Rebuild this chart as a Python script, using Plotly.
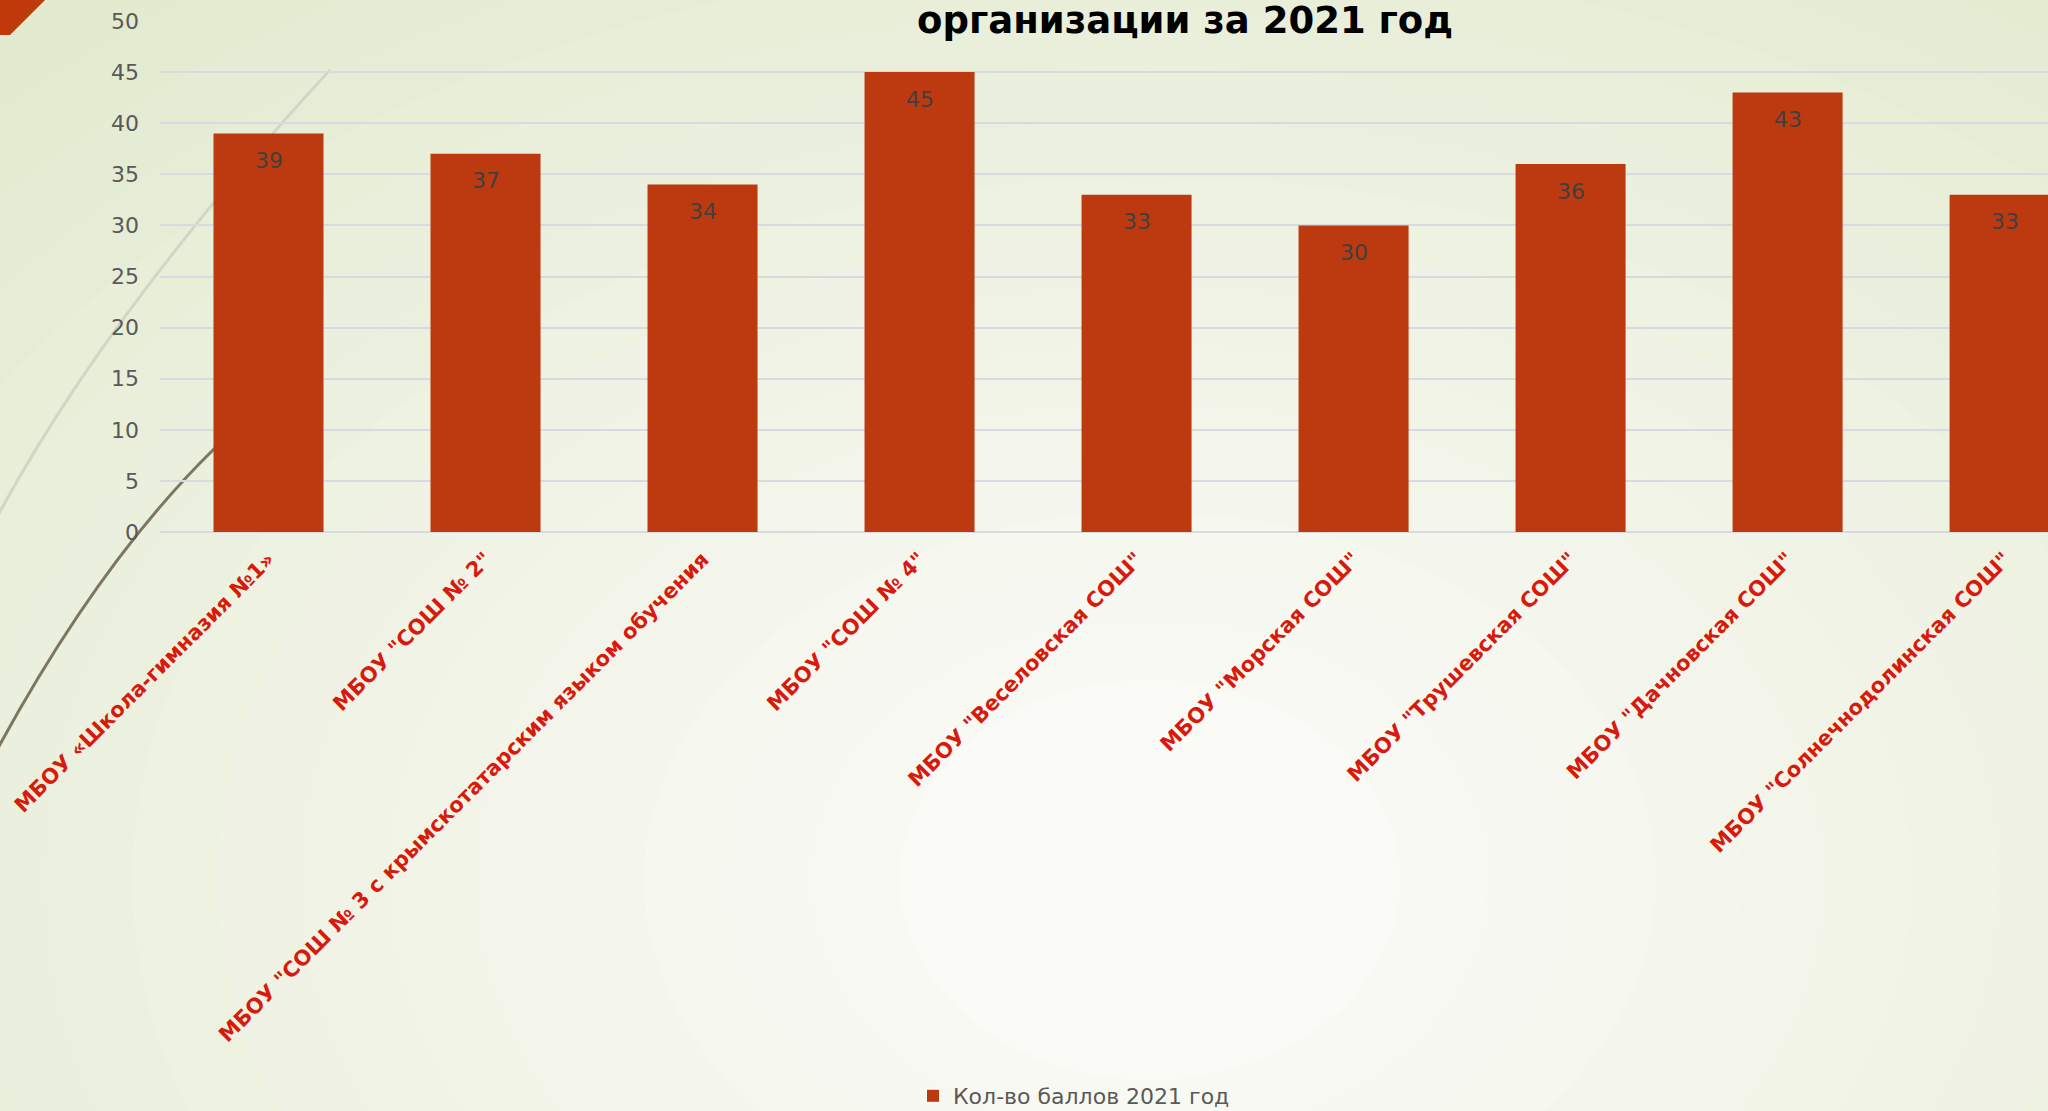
import plotly.graph_objects as go

categories = [
    'МБОУ «Школа-гимназия №1»',
    'МБОУ "СОШ № 2"',
    'МБОУ "СОШ № 3 с крымскотатарским языком обучения',
    'МБОУ "СОШ № 4"',
    'МБОУ "Веселовская СОШ"',
    'МБОУ "Морская СОШ"',
    'МБОУ "Трушевская СОШ"',
    'МБОУ "Дачновская СОШ"',
    'МБОУ "Солнечнодолинская СОШ"',
]
scores_2021 = [39, 37, 34, 45, 33, 30, 36, 43, 33]
series_name = "Кол-во баллов 2021 год"
title_text = "организации за 2021 год"
y_ticks = [0, 5, 10, 15, 20, 25, 30, 35, 40, 45, 50]

W, H = 2048, 1111
ML, MR, MT, MB = 160, 0, 21, 579
PW, PH = W - ML - MR, H - MT - MB


def px(x):
    return (x - ML) / PW


def py(y):
    return (H - MB - y) / PH


fig = go.Figure()
fig.add_trace(go.Bar(
    x=categories, y=scores_2021, name=series_name,
    marker=dict(color="#BD3A10", line=dict(width=0)),
    showlegend=True,
))

for c, v in zip(categories, scores_2021):
    fig.add_annotation(x=c, y=v, xref="x", yref="y", text=str(v), showarrow=False,
                       yshift=-27, font=dict(family="DejaVu Sans", size=22, color="#404040"))

shapes = []
# background radial-ish gradient
outer = (0xE2, 0xEA, 0xCF)
inner = (0xFA, 0xFA, 0xF6)
cx, cy = 1150, 880
n = 18
for i in range(n):
    t = i / (n - 1)
    rx = 1700 - t * 1450
    ry = 1150 - t * 950
    col = tuple(round(outer[k] + (inner[k] - outer[k]) * t) for k in range(3))
    shapes.append(dict(type="circle", xref="paper", yref="paper", layer="below",
                       x0=px(cx - rx), x1=px(cx + rx), y0=py(cy + ry), y1=py(cy - ry),
                       fillcolor="rgb(%d,%d,%d)" % col, line=dict(width=0)))

# decorative curves
p1 = "M {} {} Q {} {} {} {}".format(px(-20), py(550), px(90), py(330), px(330), py(70))
p2 = "M {} {} Q {} {} {} {}".format(px(-20), py(782), px(90), py(570), px(215), py(448))
shapes.append(dict(type="path", xref="paper", yref="paper", layer="below", path=p1,
                   line=dict(color="#D2D6C4", width=3)))
shapes.append(dict(type="path", xref="paper", yref="paper", layer="below", path=p2,
                   line=dict(color="#7E7760", width=3)))
# orange corner
corner = "M {} {} L {} {} L {} {} L {} {} Z".format(px(0), py(0), px(45), py(0), px(10), py(35), px(0), py(35))
shapes.append(dict(type="path", xref="paper", yref="paper", layer="above", path=corner,
                   fillcolor="#C0390B", line=dict(width=0)))

fig.add_annotation(x=px(1185), y=py(44), xref="paper", yref="paper", xanchor="center", yanchor="bottom",
                   text="<b>" + title_text + "</b>", showarrow=False,
                   font=dict(family="DejaVu Sans", size=37, color="#000000"))

fig.update_layout(
    width=W, height=H,
    margin=dict(l=ML, r=MR, t=MT, b=MB, pad=0, autoexpand=False),
    paper_bgcolor="#E2EACF",
    plot_bgcolor="rgba(0,0,0,0)",
    bargap=0.493,
    shapes=shapes,
    showlegend=True,
    legend=dict(orientation="h", x=px(1074), y=py(1096), xanchor="center", yanchor="middle",
                bgcolor="rgba(0,0,0,0)",
                font=dict(family="DejaVu Sans", size=22, color="#595959")),
    xaxis=dict(range=[-0.5, 8.2], tickangle=-45, showgrid=False, showline=False, ticks="",
               ticklabelstandoff=10,
               tickfont=dict(family="DejaVu Sans", size=21, color="#D81A0C", weight="bold")),
    yaxis=dict(range=[0, 50], tickvals=y_ticks, showgrid=True, gridcolor="#D8DAE0", gridwidth=1.5,
               zeroline=True, zerolinecolor="#D8DAE0", zerolinewidth=1.5, showline=False, ticks="",
               ticklabelstandoff=20,
               tickfont=dict(family="DejaVu Sans", size=22, color="#595959")),
)

fig.write_html("out.html", config={"displayModeBar": False},
               post_script="document.body.style.margin='0';document.body.style.overflow='hidden';")
